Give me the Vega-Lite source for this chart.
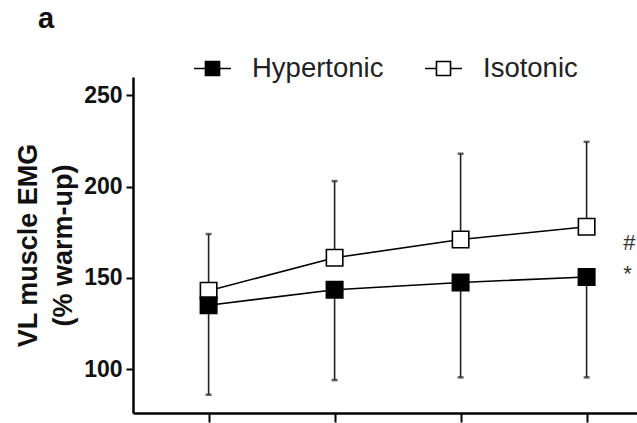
{
  "$schema": "https://vega.github.io/schema/vega-lite/v6.json",
  "autosize": "none",
  "width": 504,
  "height": 336,
  "padding": {"left": 133, "top": 77, "right": 0, "bottom": 10},
  "background": "white",
  "config": {
    "view": {"stroke": null},
    "font": "Liberation Sans",
    "axis": {"grid": false, "domainColor": "black", "tickColor": "black", "labelColor": "#111", "titleColor": "#111"}
  },
  "title": {
    "text": "a",
    "anchor": "start",
    "frame": "group",
    "fontSize": 29,
    "fontWeight": "bold",
    "color": "#111",
    "dx": -95,
    "dy": -11
  },
  "datasets": {
    "series": [
      {"time": 1, "group": "Isotonic", "mean": 143, "whisker": 174},
      {"time": 2, "group": "Isotonic", "mean": 161, "whisker": 203},
      {"time": 3, "group": "Isotonic", "mean": 171, "whisker": 218},
      {"time": 4, "group": "Isotonic", "mean": 178, "whisker": 224.5},
      {"time": 1, "group": "Hypertonic", "mean": 135, "whisker": 86},
      {"time": 2, "group": "Hypertonic", "mean": 143.5, "whisker": 94},
      {"time": 3, "group": "Hypertonic", "mean": 147.5, "whisker": 95.5},
      {"time": 4, "group": "Hypertonic", "mean": 150.5, "whisker": 95.5}
    ],
    "marks": [
      {"time": 4.29, "value": 169, "label": "#"},
      {"time": 4.29, "value": 152, "label": "*"}
    ]
  },
  "layer": [
    {
      "data": {"name": "series"},
      "mark": {"type": "line", "color": "black", "strokeWidth": 1.6},
      "encoding": {
        "x": {"field": "time", "type": "quantitative",
              "scale": {"domain": [0.4, 4.4], "nice": false, "zero": false},
              "axis": {"values": [1, 2, 3, 4], "labels": false, "title": null, "tickSize": 9, "tickWidth": 2, "domainWidth": 2.5}},
        "y": {"field": "mean", "type": "quantitative",
              "scale": {"domain": [76, 260], "nice": false, "zero": false},
              "axis": {"values": [100, 150, 200, 250], "tickSize": 7, "tickWidth": 2, "domainWidth": 2.5,
                       "labelFontSize": 23, "labelFontWeight": "bold", "labelPadding": 4,
                       "title": ["VL muscle EMG", "(% warm-up)"], "titleFontSize": 27, "titleFontWeight": "bold",
                       "titleLineHeight": 35, "titlePadding": 6}},
        "detail": {"field": "group"}
      }
    },
    {
      "data": {"name": "series"},
      "mark": {"type": "rule", "color": "#222", "strokeWidth": 1.6},
      "encoding": {
        "x": {"field": "time", "type": "quantitative"},
        "y": {"field": "mean", "type": "quantitative"},
        "y2": {"field": "whisker"}
      }
    },
    {
      "data": {"name": "series"},
      "mark": {"type": "tick", "orient": "horizontal", "color": "#222", "size": 6, "thickness": 2.5},
      "encoding": {
        "x": {"field": "time", "type": "quantitative"},
        "y": {"field": "whisker", "type": "quantitative"}
      }
    },
    {
      "data": {"name": "series"},
      "mark": {"type": "point", "shape": "square", "filled": true, "size": 270, "stroke": "black", "strokeWidth": 1.6, "opacity": 1},
      "encoding": {
        "x": {"field": "time", "type": "quantitative"},
        "y": {"field": "mean", "type": "quantitative"},
        "fill": {"field": "group", "type": "nominal",
                 "scale": {"domain": ["Hypertonic", "Isotonic"], "range": ["black", "white"]},
                 "legend": {"title": null, "orient": "none", "direction": "horizontal", "legendX": 60, "legendY": -28,
                            "padding": 0, "symbolType": "M-1,0L-0.38,0M0.38,0L1,0M-0.38,-0.38L0.38,-0.38L0.38,0.38L-0.38,0.38Z",
                            "symbolSize": 1369, "symbolStrokeColor": "black", "symbolStrokeWidth": 1.6,
                            "labelFontSize": 27.5, "labelColor": "#222", "labelOffset": 20, "columnPadding": 37,
                            "symbolOpacity": 1}}
      }
    },
    {
      "data": {"name": "marks"},
      "mark": {"type": "text", "align": "left", "baseline": "middle", "fontSize": 22, "color": "#333"},
      "encoding": {
        "x": {"field": "time", "type": "quantitative"},
        "y": {"field": "value", "type": "quantitative"},
        "text": {"field": "label"}
      }
    }
  ]
}
